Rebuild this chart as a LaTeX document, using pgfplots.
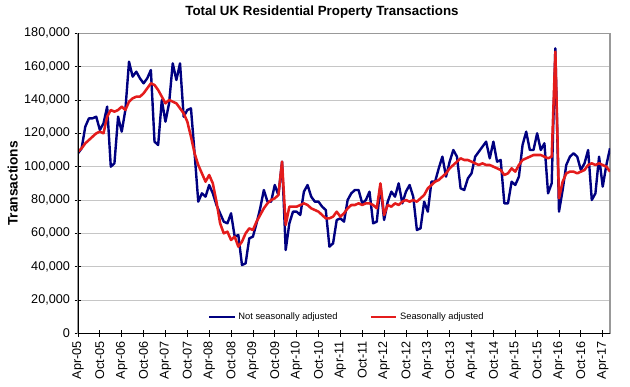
\documentclass[border=0pt]{standalone}
\usepackage{fontspec}
\setmainfont{Liberation Sans}
\usepackage{pgfplots}
\usepackage{pgfplotstable}
\pgfplotsset{compat=1.18}
\definecolor{nsa}{RGB}{0,0,128}
\definecolor{sa}{RGB}{228,28,28}

\pgfplotstableread{
i nsa sa
0 108000 109000
1 111000 111000
2 124000 114000
3 129000 116000
4 129000 118000
5 130000 120000
6 122000 121000
7 126000 120000
8 136000 130000
9 100000 134000
10 102000 133000
11 130000 134000
12 121000 136000
13 134000 134000
14 163000 139000
15 154000 141000
16 157000 142000
17 153000 142000
18 150000 144000
19 153000 147000
20 158000 150000
21 115000 149000
22 113000 146000
23 140000 142000
24 127000 138000
25 138000 140000
26 162000 139000
27 152000 138000
28 162000 135000
29 130000 132000
30 134000 127000
31 135000 118000
32 108000 108000
33 79000 101000
34 84000 96000
35 82000 91000
36 89000 95000
37 84000 90000
38 77000 79000
39 72000 66000
40 67000 60000
41 66000 61000
42 72000 56000
43 58000 58000
44 59000 52000
45 41000 55000
46 42000 60000
47 57000 63000
48 58000 62000
49 66000 67000
50 75000 71000
51 86000 75000
52 79000 78000
53 79000 80000
54 89000 81000
55 83000 83000
56 103000 103000
57 50000 65000
58 66000 76000
59 73000 76000
60 73000 76000
61 71000 77000
62 85000 78000
63 89000 77000
64 82000 75000
65 79000 74000
66 79000 73000
67 76000 71000
68 74000 69000
69 52000 69000
70 54000 70000
71 68000 73000
72 69000 70000
73 67000 72000
74 80000 75000
75 84000 77000
76 86000 77000
77 86000 78000
78 78000 77000
79 80000 78000
80 85000 78000
81 66000 77000
82 67000 75000
83 89000 90000
84 68000 71000
85 79000 77000
86 85000 76000
87 82000 78000
88 90000 77000
89 78000 79000
90 85000 80000
91 89000 79000
92 82000 80000
93 62000 79000
94 63000 81000
95 79000 83000
96 73000 87000
97 91000 89000
98 91000 91000
99 99000 92000
100 106000 94000
101 94000 96000
102 103000 99000
103 110000 101000
104 106000 103000
105 87000 105000
106 86000 104000
107 93000 104000
108 96000 103000
109 106000 102000
110 109000 101000
111 112000 102000
112 115000 101000
113 105000 101000
114 115000 100000
115 103000 99000
116 104000 98000
117 78000 95000
118 78000 96000
119 91000 99000
120 89000 97000
121 94000 101000
122 113000 104000
123 121000 105000
124 110000 106000
125 110000 107000
126 120000 107000
127 110000 107000
128 114000 106000
129 84000 105000
130 90000 106000
131 171000 169000
132 73000 81000
133 86000 91000
134 101000 96000
135 106000 97000
136 108000 97000
137 106000 96000
138 98000 97000
139 102000 98000
140 110000 101000
141 80000 102000
142 84000 101000
143 106000 102000
144 88000 101000
145 101000 100000
146 111000 97000
}\data

\begin{document}
\begin{tikzpicture}
\begin{axis}[
  at={(58.5pt,39.5pt)}, anchor=south west,
  scale only axis, width=399pt, height=225pt,
  xmin=0, xmax=146, ymin=0, ymax=180000,
  xtick={0,6,...,144},
  xticklabels={Apr-05,Oct-05,Apr-06,Oct-06,Apr-07,Oct-07,Apr-08,Oct-08,Apr-09,Oct-09,Apr-10,Oct-10,Apr-11,Oct-11,Apr-12,Oct-12,Apr-13,Oct-13,Apr-14,Oct-14,Apr-15,Oct-15,Apr-16,Oct-16,Apr-17},
  ytick={0,20000,40000,60000,80000,100000,120000,140000,160000,180000},
  yticklabels={0,{20,000},{40,000},{60,000},{80,000},{100,000},{120,000},{140,000},{160,000},{180,000}},
  scaled y ticks=false,
  xtick pos=bottom, ytick pos=left,
  tick align=center, major tick length=5pt,
  tick style={black, line width=0.6pt},
  xticklabel style={rotate=90, anchor=east, font=\fontsize{9.5}{11}\selectfont},
  yticklabel style={font=\fontsize{9.5}{11}\selectfont},
  ymajorgrids, grid style={gray!45, line width=0.75pt},
  axis line style={draw=gray!80, line width=1pt},
  legend columns=2,
  legend style={draw=none, fill=none, at={(0.506,0.054)}, anchor=center,
    font=\fontsize{7}{8}\selectfont,
    /tikz/every even column/.append style={column sep=22pt}},
  legend image code/.code={\draw[#1] (0pt,0pt) -- (19pt,0pt);},
]
\addplot[nsa, line width=1.8pt, line join=round] table[x=i, y=nsa] {\data};
\addlegendentry{Not seasonally adjusted}
\addplot[sa, line width=1.9pt, line join=round] table[x=i, y=sa] {\data};
\addlegendentry{Seasonally adjusted}
\draw[black, line width=0.75pt] (rel axis cs:0,1) -- (rel axis cs:0,0) -- (rel axis cs:1,0);
\end{axis}
\node[font=\bfseries\fontsize{10}{12}\selectfont] at (241.5pt,280.5pt) {Total UK Residential Property Transactions};
\node[rotate=90, font=\bfseries\fontsize{10.3}{12}\selectfont] at (9.5pt,152pt) {Transactions};
\pgfresetboundingbox
\path (0,0) rectangle (472.5pt,289.5pt);
\end{tikzpicture}
\end{document}
